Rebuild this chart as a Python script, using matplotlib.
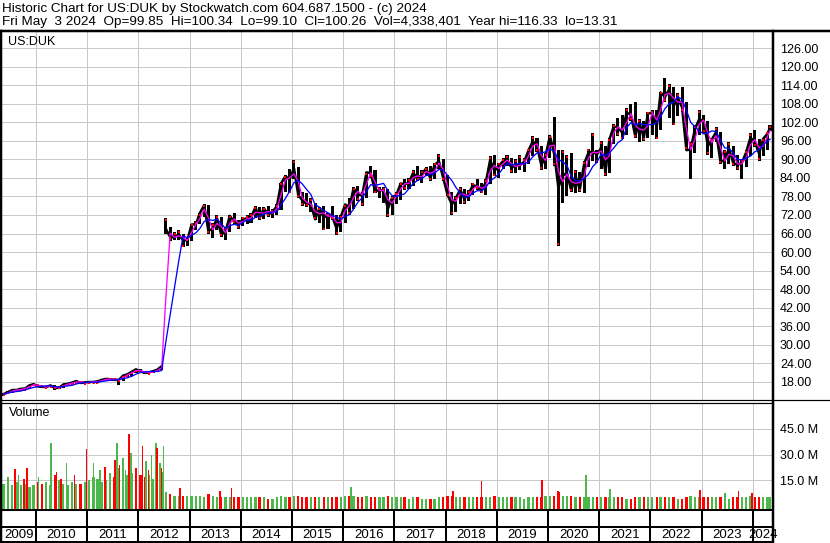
import numpy as np
import pandas as pd
import matplotlib
matplotlib.use("Agg")
import matplotlib.pyplot as plt
from matplotlib.lines import Line2D

plt.rcParams['font.family'] = ['Liberation Sans', 'DejaVu Sans']

W, H = 830, 543

# monthly low / high / close, May 2009 .. May 2024 (unadjusted, 1:3 reverse split Jul 2012)
low = [13.3, 13.9, 14.2, 14.9, 15.1, 15.2, 15.6, 16.5,
       16.2, 15.9, 16.0, 16.2, 15.3, 15.6, 15.9, 16.9, 17.1, 17.5, 17.4, 17.4,
       17.6, 17.5, 17.5, 18.0, 18.5, 18.4, 18.3, 17.0, 18.2, 19.4, 19.8, 20.7,
       20.9, 20.6, 20.5, 20.8, 21.0, 21.7, 66.0, 63.5, 63.8, 64.0, 61.5, 62.0,
       63.5, 67.0, 69.0, 71.5, 66.0, 64.5, 67.0, 65.0, 64.0, 66.5, 69.0, 67.6,
       68.5, 69.0, 69.5, 71.0, 70.5, 70.8, 71.5, 71.0, 72.0, 73.5, 79.5, 79.0,
       83.5, 77.5, 75.0, 74.5, 73.0, 70.5, 69.5, 67.0, 67.5, 70.5, 65.5, 66.5,
       69.5, 72.0, 74.0, 76.5, 75.0, 77.5, 84.0, 79.0, 77.5, 76.0, 71.5, 72.0,
       75.5, 77.0, 80.0, 80.5, 81.5, 83.0, 82.5, 84.5, 83.0, 83.5, 87.0, 83.0,
       78.0, 71.9, 73.0, 75.5, 75.5, 76.5, 78.5, 80.0, 79.0, 78.5, 82.0, 84.5,
       84.0, 87.0, 88.0, 85.5, 85.5, 86.5, 86.0, 88.5, 91.0, 92.5, 86.5, 87.0,
       90.5, 88.0, 62.1, 76.0, 78.0, 79.5, 79.0, 79.5, 79.0, 87.5, 89.5, 89.0,
       87.0, 84.7, 85.5, 95.0, 97.5, 96.5, 98.0, 102.5, 97.0, 95.5, 96.0, 97.0,
       98.0, 96.5, 99.5, 108.5, 103.5, 101.0, 104.0, 105.5, 93.0, 83.8, 92.0, 98.0,
       98.5, 91.5, 90.5, 95.5, 88.5, 87.0, 88.5, 88.0, 86.5, 83.8, 87.5, 91.0,
       94.0, 89.5, 91.0, 93.0, 99.1]
high = [14.4, 14.9, 15.4, 15.6, 15.9, 16.0, 16.9, 17.4,
        17.3, 16.7, 16.6, 17.0, 16.9, 16.5, 17.2, 17.5, 17.9, 18.3, 18.2, 17.9,
        18.2, 18.2, 18.3, 18.7, 19.2, 19.2, 19.0, 18.7, 20.2, 20.6, 21.3, 22.1,
        22.0, 21.5, 21.1, 21.6, 22.0, 23.2, 71.1, 68.0, 66.5, 67.0, 66.0, 64.5,
        69.2, 70.0, 72.7, 75.4, 75.2, 69.5, 72.0, 71.5, 68.0, 72.0, 72.5, 70.3,
        71.5, 72.0, 72.5, 75.0, 74.5, 74.5, 75.0, 74.0, 75.5, 82.5, 85.0, 87.0,
        89.8, 87.5, 79.5, 79.0, 77.5, 76.0, 74.5, 75.0, 72.5, 75.0, 72.0, 72.0,
        75.5, 77.5, 81.0, 81.5, 79.5, 86.0, 88.0, 86.5, 81.0, 81.0, 80.5, 78.0,
        79.5, 82.5, 83.5, 84.0, 86.5, 88.0, 86.5, 87.5, 88.0, 89.0, 91.8, 90.0,
        85.0, 79.5, 78.0, 81.0, 80.5, 80.0, 82.5, 83.5, 82.5, 83.5, 91.0, 91.5,
        89.0, 90.5, 91.5, 90.5, 90.0, 91.5, 90.5, 93.5, 97.5, 97.0, 94.5, 92.0,
        98.0, 103.8, 93.0, 93.0, 91.5, 92.0, 86.5, 86.0, 89.5, 93.5, 98.5, 93.0,
        96.0, 94.5, 97.0, 101.5, 103.5, 104.5, 106.5, 108.0, 108.5, 103.0, 102.5, 105.5,
        106.0, 106.0, 112.0, 116.3, 114.5, 113.5, 111.5, 113.5, 108.5, 95.5, 101.0, 106.0,
        104.5, 102.5, 97.0, 100.5, 99.0, 93.0, 95.5, 94.5, 91.5, 90.0, 93.0, 98.5,
        99.5, 96.5, 97.0, 99.0, 101.0]
close = [14.0, 14.6, 15.3, 15.3, 15.7, 15.8, 16.8, 17.2,
         16.5, 16.3, 16.3, 16.8, 16.0, 16.0, 17.1, 17.3, 17.7, 18.2, 17.6, 17.8,
         17.9, 17.9, 18.1, 18.6, 18.9, 18.8, 18.6, 18.6, 20.0, 20.4, 21.2, 22.0,
         21.3, 20.9, 21.0, 21.4, 21.9, 23.0, 67.5, 64.8, 64.8, 65.7, 63.8, 63.8,
         68.9, 69.0, 72.6, 75.2, 66.9, 67.5, 71.0, 65.6, 66.8, 71.7, 69.8, 69.0,
         70.6, 70.9, 71.2, 74.5, 71.0, 74.2, 72.1, 73.1, 74.8, 82.2, 84.6, 83.5,
         87.2, 78.4, 76.8, 75.5, 75.6, 70.6, 74.2, 71.2, 71.9, 71.5, 67.6, 71.4,
         75.4, 74.6, 80.7, 78.7, 78.3, 85.8, 85.6, 79.8, 80.0, 80.0, 74.0, 77.6,
         78.5, 82.2, 82.0, 82.5, 85.7, 83.6, 85.1, 87.1, 83.9, 88.3, 89.4, 84.1,
         78.5, 75.4, 77.5, 80.2, 77.2, 79.1, 81.6, 81.3, 80.0, 82.6, 89.8, 86.3,
         87.8, 89.5, 90.0, 87.4, 88.0, 88.2, 89.2, 92.9, 95.9, 94.3, 88.1, 91.2,
         97.6, 91.6, 80.9, 84.7, 85.7, 79.9, 84.7, 80.3, 88.6, 92.1, 92.6, 91.6,
         93.8, 85.9, 96.5, 100.7, 100.3, 98.7, 105.1, 104.6, 97.6, 102.0, 97.0, 104.9,
         105.1, 100.4, 111.7, 110.2, 112.7, 107.2, 110.0, 106.9, 93.0, 93.2, 99.9, 103.0,
         102.5, 94.3, 96.5, 98.9, 89.3, 89.7, 93.6, 88.8, 88.3, 88.9, 92.3, 97.0,
         95.8, 91.9, 96.7, 98.3, 100.26]

# typical daily volume per month, millions
vol = [13, 15, 12, 14, 12, 13, 11, 12,
       14, 13, 14, 12, 18, 15, 13, 12, 14, 13, 13, 14,
       15, 17, 16, 14, 15, 16, 17, 22, 20, 18, 19, 18,
       18, 17, 18, 16, 19, 20, 8, 7, 6, 6, 6, 6,
       6, 6, 6, 5, 7, 6, 5, 5, 5, 5, 5, 5,
       5, 5, 5, 5, 5, 5, 4, 4, 5, 6, 5, 5,
       6, 6, 5, 5, 5, 5, 5, 5, 5, 5, 5, 5,
       6, 6, 6, 5, 5, 6, 5, 5, 5, 5, 6, 5,
       5, 5, 5, 4, 5, 5, 4, 4, 4, 4, 5, 5,
       6, 6, 5, 5, 5, 5, 5, 5, 5, 5, 5, 6,
       5, 5, 5, 5, 5, 5, 4, 5, 5, 5, 5, 6,
       6, 6, 8, 6, 6, 6, 5, 5, 5, 5, 5, 5,
       5, 5, 5, 5, 5, 5, 4, 4, 5, 5, 5, 5,
       5, 5, 5, 5, 5, 5, 4, 4, 5, 6, 5, 5,
       5, 5, 5, 5, 5, 5, 4, 5, 5, 5, 5, 6,
       5, 5, 5, 5, 5]

# notable single-day volume spikes
spike_year = [2009.45, 2009.59, 2009.66, 2009.77, 2009.82, 2010.05, 2010.29, 2010.40,
              2010.49, 2010.60, 2010.75, 2010.99, 2011.12, 2011.25, 2011.35, 2011.45,
              2011.54, 2011.58, 2011.63, 2011.70, 2011.75, 2011.82, 2011.86, 2011.95,
              2012.08, 2012.15, 2012.20, 2012.26, 2012.34, 2012.36, 2012.42, 2012.45,
              2012.49, 2012.81, 2013.59, 2013.82, 2016.15, 2018.15, 2018.70, 2019.88,
              2020.20, 2020.74, 2021.21, 2022.97, 2023.46, 2023.72, 2023.98]
spike_vol = [17, 21.6, 18, 16, 22, 17, 37, 20,
             16, 25, 18, 33, 25, 21, 23, 19,
             27, 37, 24, 28, 21, 42, 31, 22,
             35, 26, 21, 30, 37, 34, 25, 22,
             35, 10.5, 9, 10.7, 11, 8.8, 14.8, 15,
             8.5, 18, 10, 9.3, 7.6, 8.8, 7.6]
spike_up = [1, 0, 1, 0, 0, 1, 1, 0,
            0, 1, 0, 0, 1, 1, 0, 1,
            0, 1, 0, 1, 1, 0, 1, 0,
            0, 1, 0, 1, 1, 0, 1, 0,
            1, 0, 0, 0, 1, 0, 0, 0,
            0, 1, 1, 0, 1, 0, 0]

header1 = "Historic Chart for US:DUK by Stockwatch.com 604.687.1500 - (c) 2024"
header2 = ("Fri May  3 2024  Op=99.85  Hi=100.34  Lo=99.10  Cl=100.26  "
           "Vol=4,338,401  Year hi=116.33  lo=13.31")
price_ticks = np.arange(18, 127, 6)
vol_ticks = [15, 30, 45]
years = list(range(2009, 2025))


def fx(x):
    return x / W


def fy(y):
    return 1 - y / H


def px(v):
    return v * 0.72


dates = pd.date_range("2009-05-01", periods=len(close), freq="MS") + pd.Timedelta(days=14)
t = np.array(dates.year + (dates.dayofyear - 1) / 365.25)
t[-1] = 2024 + 123 / 366  # last quote May 3
low = np.array(low)
high = np.array(high)
close = np.array(close)
s = pd.Series(close)
ma_fast = s.rolling(2, min_periods=1).mean()
ma_slow = s.rolling(5, min_periods=1).mean()
split = int(np.argmax(close[1:] / close[:-1] > 2)) + 1

x0, x1 = 2009.336, 2024.395
grid_c = "#c8c8c8"
green = "#4cb84c"
red = "#ff0000"

fig = plt.figure(figsize=(W / 100, H / 100), dpi=100)

# price panel
ax = fig.add_axes([fx(2), fy(400), (773 - 2) / W, (400 - 31) / H])
ax.plot(t[:split], close[:split], color="black", lw=px(2.5), zorder=2)
ax.plot(t[split:], close[split:], color="black", lw=px(2.5), zorder=2)
ax.bar(t, high - low, bottom=low, width=0.06, color="black", zorder=2)
down = np.r_[False, close[1:] < close[:-1]]
ax.scatter(t[down], low[down] + 0.6, s=4, marker="s", color=red, lw=0, zorder=3)
ax.scatter(t[~down], high[~down] - 0.6, s=3, marker="s", color=red, lw=0, zorder=3)
ax.plot(t, ma_fast, color="#ff00ff", lw=px(1.3), zorder=4)
ax.plot(t, ma_slow, color="#0000ff", lw=px(1.3), zorder=5)
ax.set_xlim(x0, x1)
ax.set_ylim(12.07, 131.6)
ax.set_yticks(price_ticks)
ax.set_yticklabels([f"{v:.2f}" for v in price_ticks])
ax.set_xticks(years[1:])
ax.tick_params(axis="y", left=False, labelleft=False, right=True, labelright=True,
               length=0, pad=5, labelsize=9)
ax.tick_params(axis="x", bottom=False, labelbottom=False, length=0)
ax.grid(True, color=grid_c, lw=px(1))
ax.set_axisbelow(True)
for sp in ax.spines.values():
    sp.set_visible(False)
ax.text(6 / 771, 1 - 11 / 369, "US:DUK", transform=ax.transAxes,
        fontsize=9, va="center", ha="left")

# volume panel
av = fig.add_axes([fx(2), fy(509), (773 - 2) / W, (509 - 403) / H])
vmin = -1.75
vcol = [green if u else red for u in np.r_[True, close[1:] >= close[:-1]]]
av.bar(t, np.array(vol) - vmin, bottom=vmin, width=0.045, color=vcol, zorder=2)
scol = [green if u else red for u in spike_up]
av.bar(spike_year, np.array(spike_vol) - vmin, bottom=vmin, width=0.03, color=scol, zorder=3)
av.set_xlim(x0, x1)
av.set_ylim(vmin, 60.1)
av.set_yticks(vol_ticks)
av.set_yticklabels([f"{v:.1f} M" for v in vol_ticks])
av.set_xticks(years[1:])
av.tick_params(axis="y", left=False, labelleft=False, right=True, labelright=True,
               length=0, pad=5, labelsize=9)
av.tick_params(axis="x", bottom=False, labelbottom=False, length=0)
av.grid(True, color=grid_c, lw=px(1))
av.set_axisbelow(True)
for sp in av.spines.values():
    sp.set_visible(False)
av.text(0.009, 1 - 10.5 / 106, "Volume", transform=av.transAxes,
        fontsize=9, va="center", ha="left")

# date strip
ad = fig.add_axes([fx(2), fy(542), (773 - 2) / W, (542 - 510) / H])
ad.set_xlim(x0, x1)
ad.set_ylim(0, 32)
ad.axis("off")
for yr in years[1:]:
    ad.vlines(yr, 0, 32, color="black", lw=px(2))
for yr in years:
    c = (max(yr, x0) + min(yr + 1, x1)) / 2
    ad.text(c, 7.5, str(yr), ha="center", va="center", fontsize=9.5)


# frame lines
def hline(y, xa, xb, w):
    fig.add_artist(Line2D([fx(xa), fx(xb)], [fy(y), fy(y)], color="black",
                          lw=px(w), transform=fig.transFigure))


def vline(x, ya, yb, w):
    fig.add_artist(Line2D([fx(x), fx(x)], [fy(ya), fy(yb)], color="black",
                          lw=px(w), transform=fig.transFigure))


hline(31, 0, W, 2.5)
hline(400, 0, 773, 1.2)
hline(403, 0, 773, 1.2)
hline(400, 773, W, 1.2)
hline(510, 0, 773, 2)
hline(527, 0, 773, 2)
hline(541.5, 0, 773, 2)
vline(1, 31, H, 2.5)
vline(773, 31, H, 2.5)

fig.text(fx(2), fy(9), header1, fontsize=9.7, va="center", ha="left")
fig.text(fx(2), fy(21.5), header2, fontsize=9.7, va="center", ha="left")

fig.savefig("out.png", dpi=100)
